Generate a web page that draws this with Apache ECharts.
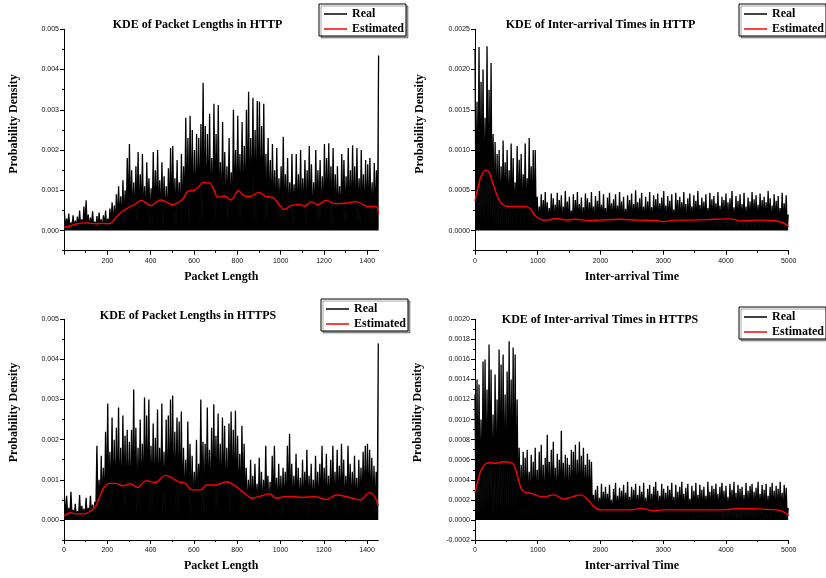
<!DOCTYPE html>
<html>
<head>
<meta charset="utf-8">
<title>KDE of packet lengths and inter-arrival times</title>
<script src="https://cdn.jsdelivr.net/npm/echarts@6/dist/echarts.min.js"></script>
<style>
  html, body { margin: 0; padding: 0; background: #fff; }
  #chart { width: 826px; height: 578px; }
</style>
</head>
<body>
<div id="chart"></div>
<script>
// All densities below are stored in units of 1e-5.
const UNIT = 1e-5;

// Measured densities over packet length sit on the grid 2, 7, 12, ... 1452.
const LEN_START = 2, LEN_STEP = 5;
// Measured densities over inter-arrival time sit on the grid 0, 16, 32, ... 4992.
const IAT_START = 0, IAT_STEP = 16;

// ---- HTTP, packet length ----
const httpLenReal = [
  45,3,30,8,42,2,20,10,38,4,
  25,6,35,2,50,9,28,3,60,5,
  75,8,40,2,32,12,48,4,22,7,
  36,3,45,10,28,2,38,6,50,4,
  30,8,55,12,70,5,62,15,90,10,
  110,20,85,6,125,14,100,8,180,22,
  215,10,150,25,120,8,160,15,195,6,
  140,20,190,12,110,6,170,30,130,8,
  105,15,195,10,150,4,200,20,125,9,
  170,6,135,18,110,10,155,25,205,8,
  210,12,130,5,175,22,120,10,190,15,
  160,30,280,12,230,8,285,20,250,10,
  200,15,240,25,230,8,265,12,367,18,
  260,10,240,30,290,15,180,8,315,20,
  240,12,312,25,170,10,270,15,195,8,
  160,20,230,12,145,8,300,28,200,10,
  285,15,190,25,270,10,210,12,300,20,
  345,8,230,22,330,15,250,10,322,25,
  320,12,260,18,315,8,190,20,230,15,
  175,10,215,25,150,8,205,12,130,20,
  160,15,233,6,140,20,180,10,120,8,
  190,12,115,20,190,8,140,15,200,10,
  130,25,175,8,150,12,210,18,165,6,
  120,15,200,10,150,20,175,8,135,12,
  215,8,180,20,217,12,160,6,205,15,
  140,10,160,22,110,8,190,15,175,10,
  135,20,205,8,150,12,212,18,160,6,
  205,15,130,10,200,22,140,8,175,12,
  165,10,180,15,120,8,168,20,150,6,
  435
];
const httpLenEstX = [0,30,60,100,150,180,200,215,240,270,300,330,355,375,400,420,445,470,500,530,550,570,600,620,640,670,690,710,740,770,805,830,860,900,930,960,1000,1015,1050,1090,1110,1140,1170,1210,1250,1300,1350,1400,1440,1452];
const httpLenEstY = [8,12,17,19,17,18,17,18,33,48,58,66,75,70,62,68,76,72,64,71,79,97,100,108,119,119,104,83,86,76,99,87,85,95,85,83,60,52,62,65,60,72,64,75,67,68,72,60,60,41];

// ---- HTTP, inter-arrival time ----
const httpIatReal = [
  225,12,160,20,228,8,185,15,200,10,
  140,18,229,6,175,14,208,10,120,5,
  110,4,95,2,100,6,80,3,112,5,
  85,2,100,4,75,6,108,1,90,3,
  60,5,105,2,88,4,95,3,70,6,
  108,2,65,4,115,3,80,5,100,2,
  100,5,42,2,30,4,45,1,38,3,
  48,2,35,4,28,1,46,3,40,2,
  32,5,47,1,38,3,44,2,30,4,
  49,1,36,3,42,2,25,4,45,1,
  38,3,48,2,33,5,41,1,29,3,
  46,2,40,4,35,1,48,3,30,2,
  43,4,37,1,49,3,32,2,45,5,
  28,1,41,3,47,2,34,4,39,1,
  45,3,31,2,48,4,36,1,42,3,
  27,2,44,5,38,1,46,3,33,2,
  50,4,35,1,40,3,47,2,30,4,
  42,1,36,3,48,2,29,5,44,1,
  39,3,46,2,34,4,41,1,49,3,
  31,2,43,4,37,1,45,3,26,2,
  47,5,38,1,42,3,35,2,48,4,
  33,1,40,3,46,2,30,4,44,1,
  37,3,49,2,32,5,41,1,36,3,
  45,2,28,4,47,1,39,3,43,2,
  34,4,48,1,31,3,42,2,38,5,
  46,1,35,3,40,2,49,4,29,1,
  43,3,37,2,45,5,33,1,47,3,
  30,2,41,4,36,1,48,3,39,2,
  44,4,32,1,46,3,38,2,42,5,
  35,1,49,3,40,2,31,4,45,1,
  37,3,43,2,28,5,47,1,34,3,
  44,2,20
];
const httpIatEstX = [0,50,100,170,220,280,340,400,470,550,700,800,880,950,1050,1150,1300,1450,1600,1800,2000,2300,2600,2900,3000,3200,3500,3800,4050,4250,4500,4750,4900,5000];
const httpIatEstY = [37,54,68,75,73,60,46,36,31,30,30,30,27,19,14,13,15,13,14,12.5,13,14,13,12.5,11,13,13,14,14.5,12,13,12.5,10,5];

// ---- HTTPS, packet length ----
const httpsLenReal = [
  55,5,60,8,30,2,70,10,25,4,
  40,8,22,3,62,6,35,10,28,2,
  55,8,30,4,60,12,38,6,45,15,
  185,20,100,10,160,30,130,8,220,25,
  290,12,170,20,255,10,200,15,230,8,
  280,18,180,10,260,25,210,6,225,15,
  195,10,225,20,325,12,230,8,180,25,
  250,15,190,8,305,20,260,10,300,12,
  185,25,240,10,205,15,275,8,180,18,
  290,10,170,20,250,6,260,15,300,12,
  310,8,220,25,255,10,245,15,270,8,
  180,20,150,10,245,12,190,8,160,18,
  120,6,200,15,140,10,300,20,195,8,
  190,12,280,8,175,20,230,10,288,15,
  210,25,265,10,190,8,255,18,235,12,
  180,15,240,8,270,20,225,10,272,12,
  210,18,165,8,235,12,190,25,130,10,
  100,15,150,8,110,12,140,20,90,6,
  155,10,120,18,100,8,185,15,110,10,
  95,12,160,8,185,20,105,10,140,15,
  110,8,130,15,120,10,185,12,215,8,
  140,20,110,10,165,8,130,15,105,12,
  150,10,120,18,175,8,110,12,140,15,
  100,8,160,20,120,10,140,12,185,8,
  130,15,165,10,110,18,150,8,185,12,
  120,10,175,15,135,8,190,20,150,10,
  110,12,185,8,140,15,120,10,160,18,
  105,10,150,8,130,15,170,12,185,10,
  190,8,175,18,155,10,135,12,120,8,
  440
];
const httpsLenEstX = [0,30,60,90,120,145,165,185,210,240,270,305,340,380,420,470,500,530,560,590,630,660,700,750,790,830,870,910,950,980,1020,1060,1100,1160,1210,1260,1320,1370,1410,1435,1452];
const httpsLenEstY = [10,18,15,15,21,33,58,81,91,91,85,90,81,98,93,111,104,95,91,75,75,87,87,95,85,68,54,60,65,54,58,58,56,58,51,62,56,50,68,58,35];

// ---- HTTPS, inter-arrival time ----
const httpsIatReal = [
  125,8,140,5,135,10,100,6,158,4,
  160,9,130,12,175,20,150,6,105,8,
  145,5,120,10,170,7,155,4,165,9,
  125,6,148,10,178,5,140,8,172,6,
  165,4,120,3,72,2,55,4,68,1,
  62,3,70,2,48,4,65,1,58,3,
  72,2,50,4,68,1,75,3,55,2,
  62,4,85,1,58,3,70,2,78,4,
  52,1,66,3,60,2,89,4,57,1,
  65,3,62,2,55,4,70,1,68,3,
  75,2,60,4,78,1,64,3,72,2,
  55,4,66,1,60,3,58,2,25,1,
  30,2,34,1,22,3,36,0,28,2,
  33,1,26,2,35,3,20,1,31,2,
  37,0,24,2,32,1,29,3,35,1,
  27,2,38,1,23,3,33,0,30,2,
  36,1,25,2,34,3,28,1,37,2,
  22,0,31,2,35,1,26,3,33,1,
  38,2,29,1,24,3,36,0,31,2,
  27,1,34,2,30,3,37,1,23,2,
  35,0,28,2,33,1,38,3,26,1,
  32,2,36,1,21,3,34,0,29,2,
  37,1,25,2,35,3,30,1,33,2,
  24,0,38,2,28,1,34,3,31,1,
  36,2,26,1,33,3,37,0,29,2,
  34,1,23,2,36,3,30,1,38,2,
  27,0,35,2,31,1,33,3,25,1,
  37,2,29,1,34,3,36,0,28,2,
  32,1,38,2,26,3,35,1,30,2,
  36,0,24,2,33,1,37,3,29,1,
  34,2,31,1,38,3,27,0,35,2,
  32,1,12
];
const httpsIatEstX = [0,50,100,170,250,330,450,550,620,680,740,800,900,1000,1100,1250,1420,1550,1680,1780,1900,2000,2200,2500,2650,2850,3000,3500,4000,4250,4500,4800,4900,5000];
const httpsIatEstY = [27,40,50,56,57,56.5,58,57.5,55,43,31,27.5,26.5,24,23,25,21,23,25,21.5,13,10,10,10,11.5,9,10,10,10.3,11.5,11,10,8.5,4.5];

// Titles and axis labels
const panelTitles = [
  'KDE of Packet Lengths in HTTP',
  'KDE of Inter-arrival Times in HTTP',
  'KDE of Packet Lengths in HTTPS',
  'KDE of Inter-arrival Times in HTTPS'
];
const xNames = ['Packet Length', 'Inter-arrival Time', 'Packet Length', 'Inter-arrival Time'];
const yName = 'Probability Density';
const legendNames = ['Real', 'Estimated'];

// Tick values
const lenLabelsTop = [200, 400, 600, 800, 1000, 1200, 1400];
const lenLabelsBottom = [0, 200, 400, 600, 800, 1000, 1200, 1400];
const lenMajor = [0, 200, 400, 600, 800, 1000, 1200, 1400];
const lenMinor = [100, 300, 500, 700, 900, 1100, 1300];
const iatMajor = [0, 1000, 2000, 3000, 4000, 5000];
const iatMinor = [500, 1500, 2500, 3500, 4500];
const lenDensMajor = [0, 0.001, 0.002, 0.003, 0.004, 0.005];
const lenDensMinor = [-0.0005, 0.0005, 0.0015, 0.0025, 0.0035, 0.0045];
const httpIatDensMajor = [0, 0.0005, 0.001, 0.0015, 0.002, 0.0025];
const httpIatDensMinor = [-0.00025, 0.00025, 0.00075, 0.00125, 0.00175, 0.00225];
const httpsIatDensMajor = [-0.0002, 0, 0.0002, 0.0004, 0.0006, 0.0008, 0.001, 0.0012, 0.0014, 0.0016, 0.0018, 0.002];
const httpsIatDensMinor = [-0.0001, 0.0001, 0.0003, 0.0005, 0.0007, 0.0009, 0.0011, 0.0013, 0.0015, 0.0017, 0.0019];

// ---- layout ----
const SERIF = '"Liberation Serif", "Times New Roman", serif';
const SANS = '"Liberation Sans", Arial, sans-serif';

const panels = [
  { grid: { left: 64, top: 29.3, width: 314.6, height: 221.4 },
    xMin: 0, xMax: 1452, xMajor: lenMajor, xLabels: lenLabelsTop, xMinor: lenMinor,
    yMin: -0.0005, yMax: 0.005, yMajor: lenDensMajor, yMinor: lenDensMinor, yDigits: 3,
    real: httpLenReal, start: LEN_START, step: LEN_STEP, estX: httpLenEstX, estY: httpLenEstY,
    title: { x: 197.5, y: 19 }, legend: { x: 319, y: 4 }, yNamePos: [13.5, 124] },
  { grid: { left: 475, top: 29.3, width: 313.7, height: 221.4 },
    xMin: 0, xMax: 5000, xMajor: iatMajor, xLabels: iatMajor, xMinor: iatMinor,
    yMin: -0.00025, yMax: 0.0025, yMajor: httpIatDensMajor, yMinor: httpIatDensMinor, yDigits: 4,
    real: httpIatReal, start: IAT_START, step: IAT_STEP, estX: httpIatEstX, estY: httpIatEstY,
    title: { x: 600.5, y: 19 }, legend: { x: 739, y: 4 }, yNamePos: [419.5, 124] },
  { grid: { left: 64, top: 319.3, width: 314.3, height: 220.7 },
    xMin: 0, xMax: 1452, xMajor: lenMajor, xLabels: lenLabelsBottom, xMinor: lenMinor,
    yMin: -0.0005, yMax: 0.005, yMajor: lenDensMajor, yMinor: lenDensMinor, yDigits: 3,
    real: httpsLenReal, start: LEN_START, step: LEN_STEP, estX: httpsLenEstX, estY: httpsLenEstY,
    title: { x: 188, y: 310 }, legend: { x: 321, y: 299 }, yNamePos: [13.5, 412.5] },
  { grid: { left: 475, top: 319.3, width: 313.7, height: 220.7 },
    xMin: 0, xMax: 5000, xMajor: iatMajor, xLabels: iatMajor, xMinor: iatMinor,
    yMin: -0.0002, yMax: 0.002, yMajor: httpsIatDensMajor, yMinor: httpsIatDensMinor, yDigits: 4,
    real: httpsIatReal, start: IAT_START, step: IAT_STEP, estX: httpsIatEstX, estY: httpsIatEstY,
    title: { x: 600, y: 314 }, legend: { x: 739, y: 307 }, yNamePos: [418, 412.5] }
];

const grids = [], xAxes = [], yAxes = [], series = [], titles = [], legends = [], graphics = [];

function mainAxis(gridIndex, min, max, ticks, labels, fmt, isX, name) {
  return {
    type: 'value', gridIndex, min, max,
    position: isX ? 'bottom' : 'left',
    name: isX ? name : '',
    nameLocation: 'middle',
    nameGap: 20,
    nameTextStyle: { fontFamily: SERIF, fontWeight: 'bold', fontSize: 12, color: '#000' },
    axisLine: { show: true, onZero: false, lineStyle: { color: '#000', width: 1 } },
    axisTick: { show: true, length: 4, customValues: ticks, lineStyle: { color: '#000', width: 1 } },
    axisLabel: { customValues: labels, formatter: fmt, fontFamily: SANS, fontSize: 7, color: '#111',
                 margin: isX ? 6.5 : 5, showMinLabel: true, showMaxLabel: true, hideOverlap: false },
    splitLine: { show: false }
  };
}
function minorAxis(gridIndex, min, max, ticks, isX) {
  return {
    type: 'value', gridIndex, min, max,
    position: isX ? 'bottom' : 'left',
    axisLine: { show: false, onZero: false },
    axisTick: { show: true, length: 2, customValues: ticks, lineStyle: { color: '#000', width: 1 } },
    axisLabel: { show: false },
    splitLine: { show: false }
  };
}

panels.forEach((p, g) => {
  grids.push(Object.assign({ containLabel: false }, p.grid));

  xAxes.push(mainAxis(g, p.xMin, p.xMax, p.xMajor, p.xLabels, v => String(Math.round(v)), true, xNames[g]));
  xAxes.push(minorAxis(g, p.xMin, p.xMax, p.xMinor, true));
  yAxes.push(mainAxis(g, p.yMin, p.yMax, p.yMajor, p.yMajor, v => v.toFixed(p.yDigits), false));
  yAxes.push(minorAxis(g, p.yMin, p.yMax, p.yMinor, false));

  // measured density: a dense black trace, filled down to zero
  series.push({
    type: 'line', name: legendNames[0],
    xAxisIndex: 2 * g, yAxisIndex: 2 * g,
    data: p.real.map((v, i) => [p.start + i * p.step, v * UNIT]),
    showSymbol: false, symbol: 'none', color: '#000',
    lineStyle: { color: '#000', width: 1.3 },
    areaStyle: { color: '#000', opacity: 1 },
    silent: true, z: 2
  });
  // kernel density estimate
  series.push({
    type: 'line', name: legendNames[1],
    xAxisIndex: 2 * g, yAxisIndex: 2 * g,
    data: p.estX.map((x, i) => [x, p.estY[i] * UNIT]),
    smooth: 0.35, showSymbol: false, symbol: 'none', color: '#ff0000',
    lineStyle: { color: '#ff0000', width: 1.4 },
    silent: true, z: 3
  });

  titles.push({
    text: panelTitles[g], left: p.title.x, top: p.title.y, textAlign: 'center', padding: 0,
    textStyle: { fontFamily: SERIF, fontWeight: 'bold', fontSize: 12, color: '#000' }
  });

  legends.push({
    data: legendNames, left: p.legend.x, top: p.legend.y, orient: 'vertical',
    icon: 'rect', itemWidth: 23, itemHeight: 1.5, itemGap: 1,
    padding: [3, 2, 0, 5], backgroundColor: '#fff',
    borderColor: '#000', borderWidth: 1,
    shadowColor: 'rgba(0,0,0,0.35)', shadowOffsetX: 2, shadowOffsetY: 2, shadowBlur: 0,
    selectedMode: false,
    textStyle: { fontFamily: SERIF, fontWeight: 'bold', fontSize: 12, color: '#000', lineHeight: 14 }
  });

  graphics.push({
    type: 'text', x: p.yNamePos[0], y: p.yNamePos[1], rotation: Math.PI / 2,
    style: { text: yName, font: 'bold 12px ' + SERIF, fill: '#000', align: 'center', verticalAlign: 'middle' }
  });
});

const chart = echarts.init(document.getElementById('chart'), null, { renderer: 'canvas' });
chart.setOption({
  animation: false,
  backgroundColor: '#fff',
  title: titles,
  legend: legends,
  grid: grids,
  xAxis: xAxes,
  yAxis: yAxes,
  series: series,
  graphic: graphics
});
</script>
</body>
</html>
